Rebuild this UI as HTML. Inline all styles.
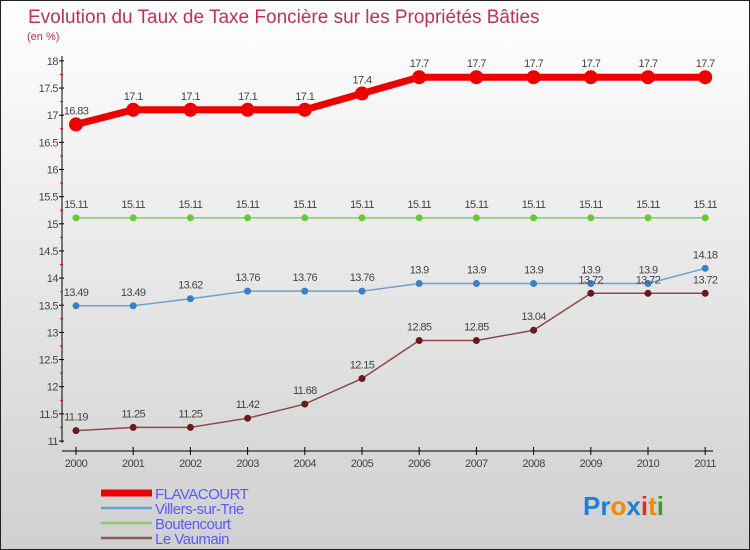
<!DOCTYPE html>
<html><head><meta charset="utf-8"><style>
body{margin:0}
#c{width:748px;height:548px;border:1px solid #222;background:linear-gradient(#fff,#d0d0d0);position:relative;overflow:hidden;font-family:"Liberation Sans",sans-serif}
</style></head><body>
<div id="c">
<svg id="s" width="748" height="548" xmlns="http://www.w3.org/2000/svg">
<text x="27" y="22" font-size="19" fill="#c0305a">Evolution du Taux de Taxe Foncière sur les Propriétés Bâties</text>
<text x="26" y="39" font-size="11" fill="#c0305a">(en %)</text>
<g id="axes"></g><g id="series"></g>
<g id="legend"></g>
<text x="582" y="514" font-size="26" font-weight="bold"><tspan fill="#1e7fd8">Pr</tspan><tspan fill="#f08a00">o</tspan><tspan fill="#1e7fd8">x</tspan><tspan fill="#e03020">i</tspan><tspan fill="#f08a00">t</tspan><tspan fill="#3a9a30">i</tspan></text>
</svg></div>
<script>
const years=[2000,2001,2002,2003,2004,2005,2006,2007,2008,2009,2010,2011];
const yTicks=[11,11.5,12,12.5,13,13.5,14,14.5,15,15.5,16,16.5,17,17.5,18];
const flavacourt=[16.83,17.1,17.1,17.1,17.1,17.4,17.7,17.7,17.7,17.7,17.7,17.7];
const villers=[13.49,13.49,13.62,13.76,13.76,13.76,13.9,13.9,13.9,13.9,13.9,14.18];
const boutencourt=[15.11,15.11,15.11,15.11,15.11,15.11,15.11,15.11,15.11,15.11,15.11,15.11];
const vaumain=[11.19,11.25,11.25,11.42,11.68,12.15,12.85,12.85,13.04,13.72,13.72,13.72];
const seriesNames=["FLAVACOURT","Villers-sur-Trie","Boutencourt","Le Vaumain"];
const NS="http://www.w3.org/2000/svg";
const X=i=>75+i*57.2, Y=v=>440-(v-11)*54.3;
function mk(t,a,p){const e=document.createElementNS(NS,t);for(const k in a)e.setAttribute(k,a[k]);p.appendChild(e);return e;}
const ax=document.getElementById('axes');
let l=mk('line',{x1:61,y1:55,x2:61,y2:442,stroke:'#000'},ax);

l=mk('line',{x1:61,y1:450,x2:712,y2:450,stroke:'#000'},ax);

yTicks.forEach((v,i)=>{
 const y=Y(v);mk('line',{x1:58,y1:y,x2:63,y2:y,stroke:'#000'},ax);
 if(i<yTicks.length-1)mk('line',{x1:59,y1:Y(v+0.25),x2:62,y2:Y(v+0.25),stroke:'#e00'},ax);
 const t=mk('text',{x:57,y:y+4,'font-size':11,'text-anchor':'end',fill:'#444','letter-spacing':'-0.5'},ax);t.textContent=v;
 
});
years.forEach((yr,i)=>{
 mk('line',{x1:X(i),y1:446,x2:X(i),y2:454,stroke:'#000'},ax);
 const t=mk('text',{x:X(i),y:466,'font-size':11,'text-anchor':'middle',fill:'#444','letter-spacing':'-0.5'},ax);t.textContent=yr;
 
});
const sg=document.getElementById('series');
const defs=[[flavacourt,'#ee0000','#ee0000',7,7,'flavacourt'],[boutencourt,'#88c870','#6bc73a',1.5,3.5,'boutencourt'],[villers,'#6fa0d0','#3a80c8',1.5,3.5,'villers-sur-trie'],[vaumain,'#8a4a4a','#6a1a1a',1.5,3.5,'le-vaumain']];
defs.forEach(([d,lc,pc,w,r,n])=>{
 const p=mk('polyline',{points:d.map((v,i)=>X(i)+','+Y(v)).join(' '),fill:'none',stroke:lc,'stroke-width':w},sg);
 
 d.forEach((v,i)=>{
  const c=mk('circle',{cx:X(i),cy:Y(v),r:r,fill:pc},sg);
  
  const t=mk('text',{x:X(i),y:Y(v)-10,'font-size':11,'text-anchor':'middle',fill:'#444','letter-spacing':'-0.6'},sg);t.textContent=v;
  
 });
});
const lg=document.getElementById('legend');
const lcol=['#ee0000','#6fa0d0','#88c870','#8a5a5a'],lw=[7,2.5,2.5,2.5];
seriesNames.forEach((n,i)=>{
 const y=492+i*15;
 const ln=mk('line',{x1:100,y1:y,x2:151,y2:y,stroke:lcol[i],'stroke-width':lw[i]},lg);
 
 const t=mk('text',{x:154,y:y+6,'font-size':15,fill:'#5a5aff','letter-spacing':'-0.5'},lg);t.textContent=n;
 
});
</script></body></html>
